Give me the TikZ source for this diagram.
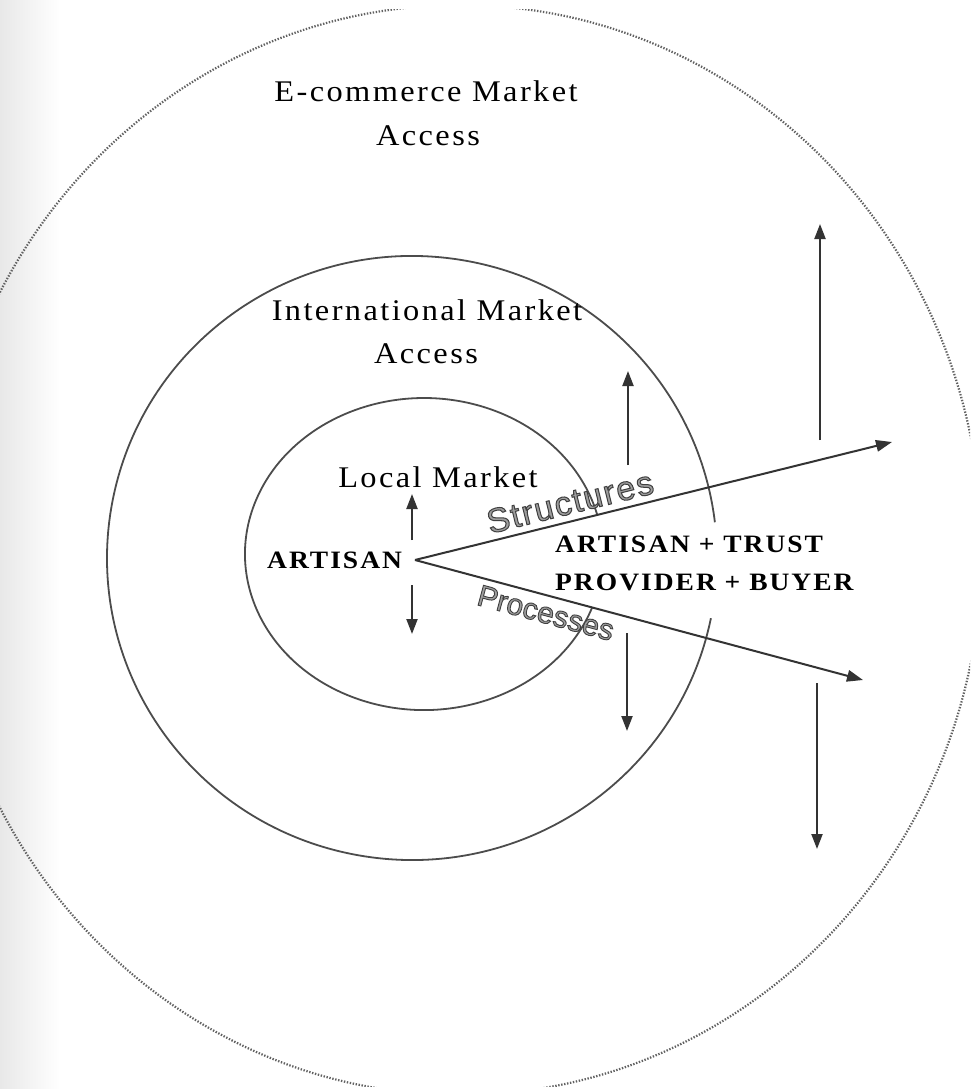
\documentclass[tikz,border=0pt]{standalone}
\usepackage{fontspec}
\setmainfont{Liberation Serif}
\newfontfamily\wordfont[FakeBold=3]{Liberation Sans}
\usetikzlibrary{arrows.meta}

\definecolor{ink}{gray}{0.2}
\definecolor{ringcol}{gray}{0.3}
\definecolor{dotcol}{gray}{0.38}

% outlined word: light grey fill, dark grey stroke around each glyph
\newcommand\outlinetext[1]{%
  \special{pdf:bcolor [0.62] [0.25]}#1\special{pdf:ecolor}}

\tikzset{
  ring/.style={draw=ringcol, line width=1.8pt},
  outerring/.style={draw=dotcol, line width=2.2pt, dash pattern=on 1.4pt off 1.6pt},
  flow/.style={draw=ink, line width=2.1pt, -{Triangle[length=15pt,width=11pt]}},
  wedge/.style={draw=ink, line width=2pt, -{Triangle[length=16pt,width=11.5pt]}},
  plaintext/.style={inner sep=0pt, font=\fontsize{30}{30}\selectfont\addfontfeature{LetterSpace=8,FakeStretch=1.08}},
  boldtext/.style={inner sep=0pt, font=\fontsize{25}{25}\selectfont\bfseries\addfontfeature{LetterSpace=8,FakeStretch=1.1}},
  wordart/.style={inner sep=0pt},
}

\begin{document}
\begin{tikzpicture}[x=1pt,y=-1pt]
  \useasboundingbox (0,0) rectangle (970,1089);
  \fill[white] (0,0) rectangle (970,1089);
  % page edge tone
  \shade[left color=black!9, right color=white] (0,0) rectangle (60,1089);

  % outer market ring (dotted), leaving the page at top and bottom
  \begin{scope}
    \clip (0,10) rectangle (970,1086);
    \draw[outerring] (460,550) ellipse [x radius=522, y radius=545];
  \end{scope}

  % international ring, open where the wedge passes
  \draw[ring] (710.9,618.2) arc [start angle=11.5, end angle=353.2, x radius=305, y radius=302];
  % local ring
  \draw[ring] (592.2,607.4) arc [start angle=20, end angle=345.5, x radius=179, y radius=156];

  % wedge
  \coordinate (apex) at (415,560);
  \coordinate (upTip) at (892,442);
  \coordinate (downTip) at (863,680);
  \draw[wedge] (apex) -- (upTip);
  \draw[wedge] (apex) -- (downTip);

  % growth arrows
  \coordinate (l1a) at (412,540); \coordinate (l1b) at (412,494);
  \coordinate (l2a) at (412,585); \coordinate (l2b) at (412,634);
  \coordinate (m1a) at (628,465); \coordinate (m1b) at (628,371);
  \coordinate (m2a) at (627,633); \coordinate (m2b) at (627,731);
  \coordinate (o1a) at (820,440); \coordinate (o1b) at (820,224);
  \coordinate (o2a) at (817,683); \coordinate (o2b) at (817,849);
  \draw[flow] (l1a) -- (l1b);
  \draw[flow] (l2a) -- (l2b);
  \draw[flow] (m1a) -- (m1b);
  \draw[flow] (m2a) -- (m2b);
  \draw[flow] (o1a) -- (o1b);
  \draw[flow] (o2a) -- (o2b);

  % ring labels
  \node[plaintext, anchor=base] (ecomA) at (426,102) {E-commerce Market};
  \node[plaintext, anchor=base] (ecomB) at (428,146) {Access};
  \node[plaintext, anchor=base] (intlA) at (427,320) {International Market};
  \node[plaintext, anchor=base] (intlB) at (426,363) {Access};
  \node[plaintext, anchor=base] (local) at (438,487) {Local Market};

  \node[boldtext, anchor=base west] (artisan) at (267,568) {ARTISAN};
  \node[boldtext, anchor=base west] (jointA) at (555,552) {ARTISAN + TRUST};
  \node[boldtext, anchor=base west] (jointB) at (555,590) {PROVIDER + BUYER};

  % wedge side labels
  \node[wordart, rotate=13.9, font=\wordfont\fontsize{34}{34}\selectfont\addfontfeature{LetterSpace=5}]
    (struct) at (570,502) {\outlinetext{Structures}};
  \node[wordart, rotate=-15.1, font=\wordfont\fontsize{30}{30}\selectfont]
    (proc) at (546,613) {\outlinetext{Processes}};
\end{tikzpicture}
\end{document}
